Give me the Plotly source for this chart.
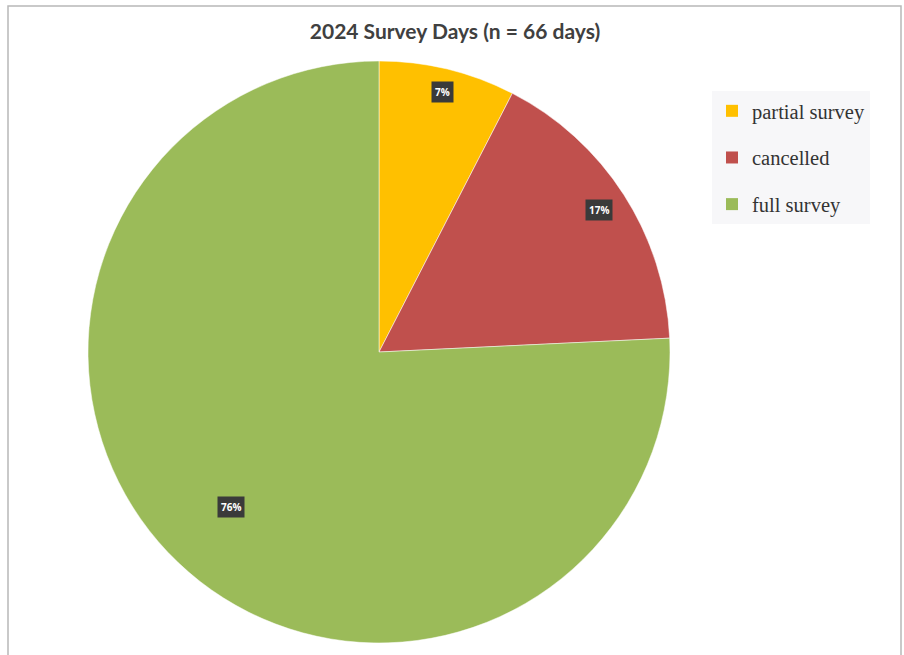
import math
import plotly.graph_objects as go

# Survey day outcomes for 2024 (66 days total)
categories = ["partial survey", "cancelled", "full survey"]
days = [5, 11, 50]
colors = ["#FFC000", "#C0504D", "#9BBB59"]
pct_labels = ["7%", "17%", "76%"]

W, H = 904, 655
cx, cy, R = 379, 352, 291          # pie centre and radius in pixels
label_r = [0.92, 0.90, 0.735]      # data-label distance as fraction of radius

fig = go.Figure()

fig.add_trace(go.Pie(
    labels=categories,
    values=days,
    sort=False,
    direction="clockwise",
    rotation=0,
    marker=dict(colors=colors, line=dict(color="white", width=0.5)),
    textinfo="none",
    hoverinfo="label+value+percent",
    showlegend=False,
    domain=dict(x=[(cx - R) / W, (cx + R) / W],
                y=[1 - (cy + R) / H, 1 - (cy - R) / H]),
))

# legend entries as square markers, one group each so rows are spaced out
for name, col in zip(categories, colors):
    fig.add_trace(go.Scatter(
        x=[None], y=[None], mode="markers", name=name,
        legendgroup=name,
        marker=dict(symbol="square", size=10, color=col),
    ))

# dark data-label boxes at the middle angle of each slice
total = sum(days)
cum = 0
for v, txt, fr in zip(days, pct_labels, label_r):
    mid = (cum + v / 2) / total * 2 * math.pi
    cum += v
    px = cx + fr * R * math.sin(mid)
    py = cy - fr * R * math.cos(mid)
    fig.add_annotation(
        x=px / W, y=1 - py / H, xref="paper", yref="paper",
        xanchor="center", yanchor="middle",
        text=f"<b>{txt}</b>", showarrow=False,
        font=dict(family="Open Sans, Arial", size=10, color="white"),
        bgcolor="#3a3a3a", borderpad=3,
    )

fig.update_layout(
    width=W, height=H,
    margin=dict(l=0, r=0, t=0, b=0),
    paper_bgcolor="white",
    plot_bgcolor="white",
    xaxis=dict(visible=False),
    yaxis=dict(visible=False),
    title=dict(
        text="<b>2024 Survey Days (n = 66 days)</b>",
        x=455 / W, xanchor="center", y=1 - 32 / H, yanchor="middle",
        font=dict(family="Lato, Open Sans, Arial", size=21, color="#404040"),
    ),
    legend=dict(
        x=712 / W, y=1 - 91 / H, xanchor="left", yanchor="top",
        bgcolor="#f7f7f9",
        font=dict(family="Liberation Serif, Times New Roman", size=20.5, color="#333333"),
        tracegroupgap=17,
        itemsizing="constant",
        itemwidth=30,
    ),
    showlegend=True,
    shapes=[dict(
        type="rect", xref="paper", yref="paper",
        x0=8 / W, x1=901 / W, y0=-0.02, y1=1 - 6 / H,
        line=dict(color="#b8b8b8", width=1.5),
        fillcolor="rgba(0,0,0,0)", layer="below",
    )],
)

fig.write_html("out.html")
